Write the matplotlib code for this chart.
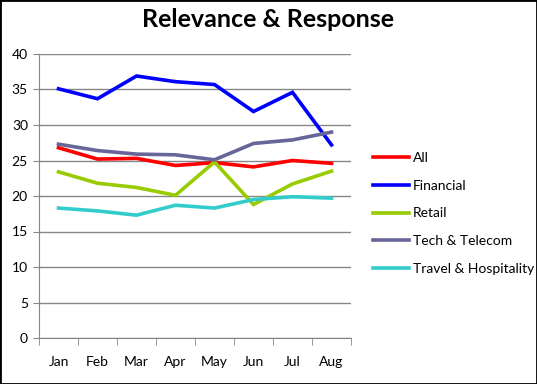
import matplotlib.pyplot as plt
import numpy as np

plt.rcParams['font.family'] = ['Lato', 'DejaVu Sans']

months = ['Jan', 'Feb', 'Mar', 'Apr', 'May', 'Jun', 'Jul', 'Aug']
all_vals = [26.8, 25.2, 25.3, 24.3, 24.7, 24.1, 25.0, 24.6]
financial = [35.1, 33.7, 36.9, 36.1, 35.7, 31.9, 34.6, 27.2]
retail = [23.4, 21.8, 21.2, 20.1, 24.8, 18.8, 21.7, 23.5]
tech = [27.3, 26.4, 25.9, 25.8, 25.1, 27.4, 27.9, 29.0]
travel = [18.3, 17.9, 17.3, 18.7, 18.3, 19.5, 19.9, 19.7]

series = [
    ('All', all_vals, '#ff0000'),
    ('Financial', financial, '#0000ff'),
    ('Retail', retail, '#99cc00'),
    ('Tech & Telecom', tech, '#666699'),
    ('Travel & Hospitality', travel, '#33cccc'),
]

fig = plt.figure(figsize=(5.37, 3.84), dpi=100)
ax = fig.add_axes([39/537, 1-338/384, 312/537, 284/384])

x = np.arange(len(months))
for name, vals, col in series:
    ax.plot(x, vals, color=col, linewidth=2.6, label=name, solid_joinstyle='miter')

ax.set_xlim(-0.5, len(months) - 0.5)
ax.set_ylim(0, 40)
ax.set_yticks(range(0, 41, 5))
ax.set_xticks(x)
ax.set_xticklabels(months, fontsize=10)
ax.set_xticks(np.arange(-0.5, len(months), 1), minor=True)
ax.tick_params(axis='x', which='major', length=0, pad=13)
ax.tick_params(axis='x', which='minor', length=5, color='#868686', direction='out')
ax.tick_params(axis='y', length=4, color='#868686', labelsize=10, pad=4)
ax.grid(axis='y', color='#868686', linewidth=1)
ax.set_axisbelow(True)
for s in ['top', 'right']:
    ax.spines[s].set_visible(False)
ax.spines['left'].set_color('#868686')
ax.spines['bottom'].set_color('#868686')

fig.suptitle('Relevance & Response', fontsize=18, fontweight='bold', y=0.978)

# legend anchored in figure coords
fig.legend(*ax.get_legend_handles_labels(), loc='upper left',
           bbox_to_anchor=(373/537, 1 - 152/384),
           frameon=False, fontsize=10, handlelength=2.6, handletextpad=0.25,
           labelspacing=1.13, borderaxespad=0, borderpad=0)

fig.patches.append(plt.Rectangle((0, 0), 1, 1, transform=fig.transFigure,
                                 fill=False, edgecolor='black', linewidth=2))

plt.savefig('out.png', dpi=100)
